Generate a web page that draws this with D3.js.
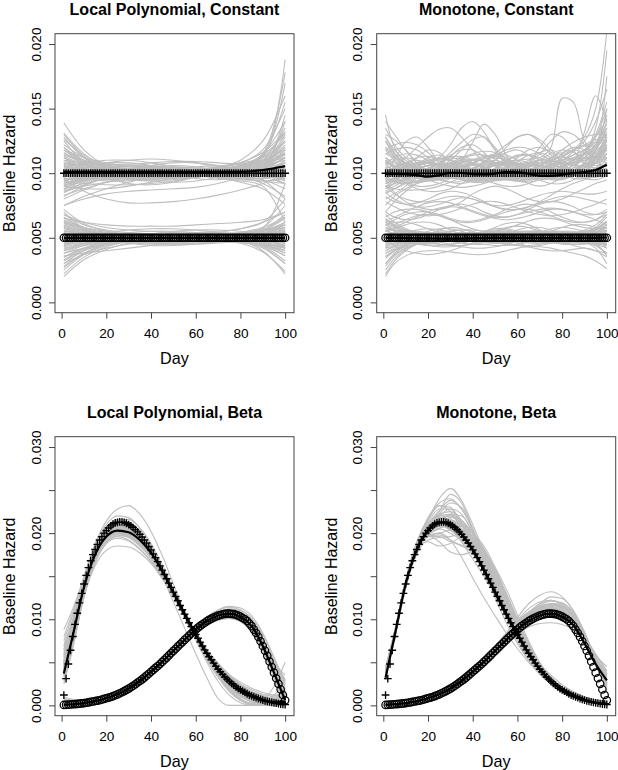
<!DOCTYPE html>
<html><head><meta charset="utf-8">
<script src="https://cdn.jsdelivr.net/npm/d3@7"></script>
<style>body{margin:0;background:#fff}svg{display:block}</style>
</head><body>
<svg id="chart" width="618" height="770"></svg>
<script>
// ---------- DATA (hazard values in units of 1e-4) ----------
const UNIT = 1e-4;
const days = d3.range(1, 101);
const knotDays5 = [1,5,10,15,20,25,30,35,40,45,50,55,60,65,70,75,80,85,90,95,100];
const knotDays10 = [1,10,20,30,40,50,60,70,80,90,100];
const xTickValues = [0,20,40,60,80,100];
const yTicksConst = [0,0.005,0.010,0.015,0.020];
const yLabelsConst = [0,0.005,0.010,0.015,0.020];
const yTicksBeta = [0,0.005,0.010,0.015,0.020,0.025,0.030];
const yLabelsBeta = [0,0.010,0.020,0.030];
const titles = ["Local Polynomial, Constant","Monotone, Constant","Local Polynomial, Beta","Monotone, Beta"];
const xLabel = "Day";
const yLabel = "Baseline Hazard";

const truthConstPlus = [100,100,100,100,100,100,100,100,100,100,100,100,100,100,100,100,100,100,100,100,100,100,100,100,100,100,100,100,100,100,100,100,100,100,100,100,100,100,100,100,100,100,100,100,100,100,100,100,100,100,100,100,100,100,100,100,100,100,100,100,100,100,100,100,100,100,100,100,100,100,100,100,100,100,100,100,100,100,100,100,100,100,100,100,100,100,100,100,100,100,100,100,100,100,100,100,100,100,100,100];
const truthConstCirc = [50,50,50,50,50,50,50,50,50,50,50,50,50,50,50,50,50,50,50,50,50,50,50,50,50,50,50,50,50,50,50,50,50,50,50,50,50,50,50,50,50,50,50,50,50,50,50,50,50,50,50,50,50,50,50,50,50,50,50,50,50,50,50,50,50,50,50,50,50,50,50,50,50,50,50,50,50,50,50,50,50,50,50,50,50,50,50,50,50,50,50,50,50,50,50,50,50,50,50,50];
const truthBetaPlus = [12,31,48,64,80,94,107,119,130,141,
151,160,168,175,181,187,192,196,200,203,
206,208.5,210.5,212,212.5,213,213,212.5,211.5,210,
208.5,206.5,204,201.5,198.5,195.5,192,188.5,184.5,180.5,
176,171.5,167,162,157,152,147,142,137,131.5,
126.5,121.5,116,111,106,101,96,91.5,87,82.5,
78,73.5,69,64.5,60.5,56.5,53,49,45.5,42,
39,36,33,30.5,28,25.5,23.5,21.5,19.5,18,
16.5,15,13.5,12,11,10,9,8,7,6,
5.3,4.6,4,3.5,3,2.5,2,1.6,1.3,1];
const truthBetaCirc = [0.5,0.65,0.8,1,1.25,1.5,1.75,2,2.3,2.65,
3,3.5,4,4.5,5,5.5,6,6.75,7.5,8.25,
9,9.75,10.75,11.75,12.75,14,15.25,16.5,18,19.5,
21,22.75,24.5,26.5,28.25,30.25,32.25,34.5,36.75,39,
41.25,43.5,45.75,48,50.5,53,55.5,58,60.75,63.25,
65.75,68.5,71,73.5,76,78.5,81,83.5,85.75,88,
90.25,92.25,94.25,96,97.75,99.25,100.75,102,103.25,104.25,
105,105.75,106.25,106.5,106.5,106.25,106,105.25,104.25,103,
101.5,100,98,95,92,88,84,79.5,74.5,69,
63.5,57.5,51,44.5,38,31.5,25,18.5,12,6];

// mean estimates at knotDays5
const meanTLplus = [101,101,101,101,101,101,101,101,101,101,101,101,101,101,101,101,101,101.5,102.5,103.8,105.5];
const meanTLcirc = [50,50,50,50,50,50,50,50,50,50,50,50,50,50,50,50,50,50,50,50,50];
const meanTRplus = [99.5,99.5,99.3,98.5,97.3,98.5,100.3,100.2,99.3,99,99.7,100.8,100.6,99.5,98,97.9,98.8,100,100.8,102.5,106.5];
const meanTRcirc = [50,50,49.8,49.6,49.5,49.4,49.3,49.4,49.6,49.8,50,50,50,49.9,49.8,49.8,49.9,50,50,50,50.2];
const meanBLplus = [37,81,137,175,196,203,201,192,177,156,131,106,82,60,42,28,18,11,6,4,4];
const meanBLcirc = [0.5,1.3,2.7,5,8.3,12.8,19.5,28.3,39,50.5,63.3,76,88,97.8,104.3,106.5,103,92,69,38,6];
const meanBRplus = [32,80,141,181,203,212.5,210,198.5,180.5,157,131.5,106,82.5,60.5,42,28,18,11,6,3,2];
const meanBRcirc = [0.5,1.3,2.7,5,8.3,12.8,19.5,28.3,39,50.5,63.3,76,88,97.8,104.3,106.5,103,93,72,48,29];

// replicate estimates, local polynomial constant (knotDays10)
const grayTLupper = [
[139,118,106,103,104,105,104,102,103,110,125],[128,112,104,101,100,101,103,105,108,118,150],
[75,82,88,93,97,100,101,100,99,97,92],[95,100,104,106,105,103,100,98,99,106,128],
[110,105,101,98,96,96,98,101,104,110,118],[120,108,100,96,95,97,100,103,106,115,178],
[88,94,98,101,103,104,104,103,102,100,95],[105,103,102,101,100,99,99,100,102,108,120],
[115,110,106,103,101,100,101,104,110,125,160],[92,96,100,103,106,108,108,106,102,95,80],
[100,98,97,97,98,100,102,103,103,101,96],[130,113,103,97,94,93,94,97,103,115,140],
[82,90,97,102,105,106,105,102,98,92,82],[108,106,104,102,100,98,96,95,97,104,118],
[97,101,104,105,104,102,99,97,96,98,104],[112,104,98,95,94,95,97,100,104,112,132],
[90,88,88,90,93,96,99,102,106,114,130],[118,110,105,103,103,104,105,106,107,112,188],
[102,100,99,99,100,101,101,100,98,95,88],[85,93,99,103,105,104,101,97,93,88,76],
[125,108,97,92,91,93,97,101,105,110,115],[98,104,108,110,111,110,108,105,103,104,112],
[106,102,99,97,96,96,97,99,102,106,110],[94,92,91,91,92,94,97,100,102,103,100],
[113,107,103,100,98,97,97,98,100,104,145],[80,87,93,97,99,99,98,96,94,90,62],
[104,108,110,110,108,105,102,99,98,100,108],[122,112,106,103,102,102,103,104,106,112,124],
[91,95,98,100,101,101,100,99,99,101,108],[100,96,94,94,96,99,102,105,108,113,170],
[96,86,80,77,77,78,80,83,87,92,98],[75,80,84,86,87,88,89,92,97,106,120],
[110,108,107,107,108,109,109,108,107,108,112],[96,95,95,96,97,98,98,97,96,96,98],
[118,112,108,105,104,103,102,101,101,104,115],[86,90,93,95,96,97,98,99,101,106,115],
[108,104,101,100,100,101,102,103,104,108,122],[92,97,101,103,104,103,101,99,98,100,110],
[103,99,97,97,99,101,103,104,103,100,94],[120,110,104,101,99,98,98,99,101,106,116],
[85,91,96,99,101,102,102,101,100,100,104],[99,102,104,104,103,101,99,98,99,104,140],
[112,106,102,100,99,99,100,101,102,103,102],[94,98,101,102,102,101,100,100,102,108,130],
[104,101,99,98,98,99,100,102,104,108,114],[88,95,100,103,104,104,102,99,96,94,96],
[116,107,101,98,97,98,100,102,104,105,104],[100,104,106,106,105,103,101,99,97,96,100],
[90,94,97,99,100,100,99,98,98,100,108],[126,114,106,101,99,98,99,101,105,114,155],
[97,99,100,101,101,100,99,99,100,104,118],[106,107,107,106,104,102,100,99,99,101,108],
[83,88,93,97,100,102,103,103,102,99,92],[110,103,99,97,97,98,100,103,106,110,112],
[95,96,97,98,99,100,101,102,104,110,135],[102,106,108,108,106,103,100,97,95,94,92],
[118,108,102,99,98,99,101,104,108,116,132],[93,100,104,106,106,104,101,98,96,96,102],
[107,103,100,98,97,97,98,99,100,101,100],[98,97,96,96,97,99,101,103,105,109,120],
[114,109,105,102,100,99,99,100,101,104,112],[87,92,96,98,99,99,99,99,100,103,112],
[105,100,97,96,96,97,99,101,103,107,125],[100,101,102,103,104,104,103,102,101,102,106],
[131,115,105,99,96,96,97,99,101,104,108],[90,96,100,102,103,103,102,100,99,100,104]];
const grayTLlower = [
[20,33,41,46,49,50,50,49,46,39,24],[72,61,55,52,51,51,52,54,57,62,70],
[48,49,50,51,51,51,50,49,48,47,46],[35,42,47,50,52,53,53,52,50,46,38],
[62,56,52,49,47,46,46,47,49,53,60],[28,38,45,49,51,52,52,51,49,44,32],
[55,53,52,51,50,49,49,49,50,52,56],[66,58,54,52,51,50,49,48,48,50,58],
[42,45,48,50,52,53,54,54,53,50,42],[58,55,53,52,51,50,50,51,53,58,75],
[38,42,45,47,48,49,50,51,52,54,58],[52,51,49,47,46,46,47,49,51,53,52],
[25,37,44,48,50,51,51,50,48,43,30],[68,60,56,54,53,52,51,50,48,45,40],
[45,47,49,51,53,55,56,56,55,52,45],[60,55,51,48,46,45,45,46,48,52,62],
[32,40,45,48,49,49,48,47,46,45,44],[50,52,53,53,52,51,50,49,49,50,54],
[70,57,50,46,44,44,45,47,50,55,65],[40,44,47,49,50,51,52,53,54,56,60],
[55,54,53,52,51,50,49,48,47,45,42],[30,40,46,50,52,53,53,51,48,40,22],
[64,58,54,52,51,51,51,52,54,58,66],[46,48,50,51,52,52,51,50,48,45,38],
[36,38,40,42,44,46,48,50,52,56,68],[58,52,48,46,45,45,46,48,50,51,48],
[44,50,54,56,57,57,56,54,52,50,46],[68,62,58,56,55,54,54,55,57,62,80],
[22,35,43,47,49,50,50,49,47,42,30],[53,50,48,47,47,48,49,51,53,57,92],
[65,62,60,59,59,59,60,61,62,64,70],
[44,47,49,50,51,51,51,50,49,47,42],[57,54,52,51,50,50,50,51,52,55,62],
[33,41,46,49,50,51,51,50,48,44,36],[61,56,52,50,49,49,49,50,51,53,56],
[48,50,51,52,52,51,50,49,48,48,50],[40,45,49,51,52,52,51,49,47,44,40],
[54,52,50,49,49,50,51,52,53,55,60],[66,57,52,49,48,48,49,50,51,53,56],
[38,44,48,50,51,51,50,49,49,50,54],[52,53,53,52,51,50,49,48,48,49,52],
[27,38,45,49,51,52,52,51,49,45,36],[59,55,52,50,49,48,48,48,49,51,55],
[46,48,49,50,50,50,50,50,50,51,55],[43,46,48,50,51,52,53,53,52,49,43],
[63,57,53,51,50,50,50,51,52,56,66],[35,42,47,49,50,50,50,49,48,46,42],
[50,49,48,48,49,50,51,52,53,55,58],[56,53,51,50,49,49,49,49,49,48,44],
[41,46,49,51,52,52,52,51,50,48,44],[62,58,55,53,52,51,50,49,48,47,48],
[30,37,42,45,47,48,49,50,51,53,58],[49,51,52,52,52,51,50,50,50,51,53],
[58,52,48,46,46,47,48,50,51,52,50],[45,49,52,54,55,55,54,52,50,47,40],
[53,52,51,50,50,50,50,50,51,53,60]];

// replicate estimates, monotone constant (knotDays5)
const grayTRupper = [
[145,120,108,104,102,100,99,100,103,108,110,106,101,98,97,99,103,108,112,120,135],
[95,100,106,112,118,116,108,100,96,95,97,100,103,104,102,99,97,98,102,110,125],
[110,104,99,96,95,97,102,110,124,138,130,114,104,100,100,103,109,117,125,140,165],
[88,92,97,101,103,102,99,96,94,95,98,103,109,114,116,112,105,99,96,95,98],
[130,126,118,108,100,95,93,94,97,100,102,101,99,97,96,97,100,108,132,160,140],
[100,98,97,98,100,104,110,118,126,128,120,110,103,99,98,100,104,110,116,128,150],
[75,82,88,92,94,95,96,97,98,99,100,101,102,103,104,106,110,114,118,122,125],
[120,112,106,104,106,112,122,135,140,132,118,108,102,100,102,108,115,120,118,112,108],
[92,95,99,103,106,107,106,103,99,95,92,90,90,92,96,101,106,110,112,113,112],
[105,103,100,97,95,95,97,100,104,109,114,118,120,119,115,110,107,108,115,135,195],
[115,118,120,118,112,105,99,95,93,93,95,99,104,110,116,118,114,108,103,100,100],
[98,99,100,101,102,103,104,105,106,107,108,109,110,111,112,120,158,155,125,115,118],
[85,88,92,96,100,104,108,112,115,117,116,112,106,100,95,92,92,95,100,108,120],
[135,122,112,106,102,100,98,97,97,98,100,102,104,108,115,125,132,130,122,112,100],
[100,105,112,120,128,134,135,128,118,108,100,96,94,95,98,103,108,111,112,112,112],
[90,88,87,87,88,90,93,97,102,108,115,122,128,130,126,118,110,106,106,112,130],
[108,106,103,99,95,92,90,89,90,92,95,99,103,107,110,112,113,118,128,150,210],
[96,100,104,107,108,107,104,100,96,94,94,96,100,105,110,115,118,116,112,108,105],
[125,113,104,100,101,106,113,120,122,116,106,98,94,93,95,99,104,110,118,128,142],
[80,84,90,97,103,108,111,111,108,103,98,95,94,96,100,106,112,118,122,126,128],
[112,108,106,106,108,111,113,112,108,103,99,97,97,100,105,112,118,124,128,130,130],
[102,97,93,90,90,92,96,102,108,112,114,112,107,102,98,96,96,98,101,104,106],
[118,122,124,122,116,108,101,96,94,95,99,105,112,118,120,116,108,101,98,100,108],
[70,78,86,92,96,98,99,100,100,100,100,100,101,103,106,110,114,118,121,124,126],
[100,102,105,108,110,111,110,106,101,97,95,96,100,108,120,130,128,118,108,110,122],
[108,100,95,93,95,100,106,111,114,114,111,106,101,97,95,96,100,107,116,130,155],
[92,94,96,99,103,108,114,118,118,113,106,100,97,96,97,99,102,104,105,104,100],
[128,118,110,105,103,103,105,108,110,110,108,105,102,100,99,99,100,102,106,118,175],
[95,85,78,74,72,72,74,78,84,88,90,88,84,80,78,78,80,84,88,92,95],
[82,78,76,77,80,84,86,85,82,78,74,72,72,74,78,83,88,92,95,97,98],
[140,130,118,108,102,98,96,96,98,102,110,120,128,130,124,114,106,100,98,100,104],
[98,110,124,128,120,108,100,97,98,103,110,116,118,114,106,100,98,100,108,122,145],
[90,92,95,98,102,108,116,124,130,128,118,106,97,92,90,92,97,104,112,122,130],
[104,98,92,88,86,86,88,92,97,102,106,108,106,102,98,95,95,98,104,112,122],
[100,104,108,110,108,103,98,95,95,98,103,108,110,108,103,99,97,98,102,108,118],
[112,105,99,96,97,101,106,109,108,104,100,97,96,98,102,106,108,108,110,116,128],
[94,96,100,106,112,114,110,104,99,96,96,98,101,103,103,101,100,102,108,118,135],
[106,110,112,110,105,100,97,97,100,104,108,110,108,104,100,97,96,98,104,112,120],
[98,94,92,93,97,103,108,110,108,104,100,98,99,102,106,110,112,111,108,106,106],
[118,110,104,100,99,100,103,106,107,105,101,97,95,96,100,105,110,114,118,124,135],
[88,92,97,102,106,108,107,104,100,97,96,98,102,107,110,110,106,101,98,98,102],
[104,100,97,97,100,104,106,105,102,99,98,100,104,108,110,108,104,100,98,102,112],
[96,102,108,112,113,110,105,100,97,96,98,101,104,106,106,104,102,102,106,114,128],
[110,106,102,98,96,96,98,102,107,112,115,114,110,104,99,96,96,99,104,112,125],
[92,95,98,100,101,101,100,100,101,103,106,110,113,114,112,108,104,102,104,110,120],
[125,115,107,102,100,101,104,108,110,109,106,102,99,98,99,102,106,110,114,118,122],
[100,98,98,100,104,108,112,113,110,105,100,97,96,97,100,104,108,112,115,122,140],
[86,90,95,99,101,101,99,97,96,97,100,104,107,108,106,103,100,99,100,103,108],
[108,112,115,114,110,105,100,96,94,94,96,100,104,107,108,107,104,101,100,104,115],
[102,99,96,94,94,96,100,105,110,113,113,110,105,100,97,96,98,102,108,118,150],
[115,112,108,104,100,98,97,98,101,104,107,108,107,104,101,99,99,102,108,118,132],
[90,94,100,106,110,112,110,106,101,97,95,95,97,101,106,112,116,118,116,112,110],
[104,106,106,104,100,96,93,92,94,98,104,110,114,114,110,104,99,96,96,100,108],
[96,93,92,94,98,103,107,110,111,110,107,103,99,96,95,97,101,106,112,120,130],
[120,114,108,104,102,101,101,102,104,106,107,106,104,101,99,98,99,101,104,108,115],
[84,88,93,98,102,105,106,105,103,101,100,101,103,105,106,105,102,99,97,97,100],
[100,103,106,108,108,106,104,103,103,104,106,107,106,104,101,99,99,102,106,112,120],
[110,104,100,98,99,102,106,108,107,104,100,96,94,94,97,101,105,108,110,112,115],
[93,97,101,104,106,106,104,101,98,96,96,98,101,105,108,109,108,106,106,108,112],
[128,116,106,100,98,98,100,104,108,111,112,110,106,102,99,97,98,101,106,114,126],
[98,100,103,106,109,111,110,107,103,99,96,95,96,99,103,107,110,112,115,122,138]];
const grayTRmid = [
[70,66,64,65,68,72,75,76,74,70,67,66,68,72,76,78,77,74,70,68,70],
[60,64,68,70,70,68,65,63,63,65,68,72,75,76,74,70,66,63,62,64,70],
[85,80,76,74,74,76,79,81,80,77,74,72,72,74,77,80,82,82,80,78,76],
[55,58,62,66,70,73,74,73,70,67,65,64,65,67,70,72,72,70,67,64,60],
[90,84,80,78,78,80,82,82,80,77,75,75,77,80,83,85,86,85,84,84,86],
[66,70,72,72,70,67,64,62,62,64,67,70,72,72,70,67,64,62,62,64,68],
[78,74,70,68,67,68,70,73,76,78,78,76,73,70,68,67,68,70,73,76,80],
[62,66,70,74,77,78,77,74,71,68,66,66,68,70,72,73,72,70,68,68,72]];
const grayTRlower = [
[22,32,40,45,48,50,51,51,50,49,48,48,49,50,51,51,50,49,47,42,30],
[65,60,56,54,52,51,50,50,50,51,52,53,54,55,55,54,53,52,52,54,58],
[50,48,46,45,45,46,48,50,52,54,55,55,53,51,49,47,46,46,47,49,52],
[35,40,44,48,52,56,58,57,54,50,47,45,45,47,50,53,55,55,53,50,45],
[58,56,53,50,47,45,44,44,45,47,50,53,56,58,58,56,53,50,48,47,47],
[28,36,42,46,48,48,47,46,45,45,46,48,50,52,53,53,52,51,50,48,42],
[55,57,60,62,62,60,56,52,49,47,46,46,48,51,54,57,58,57,55,54,56],
[45,46,47,48,49,50,51,52,53,54,54,53,52,51,50,49,48,48,48,50,55],
[62,55,50,46,44,43,43,44,46,49,52,54,55,55,53,50,47,44,42,40,38],
[40,44,48,52,55,57,57,55,52,49,47,46,47,49,52,55,58,60,60,58,55],
[52,50,49,49,50,51,52,52,51,49,47,45,44,44,45,47,49,51,53,56,62],
[30,38,44,47,48,47,45,43,42,42,43,45,47,49,50,50,49,48,47,46,44],
[60,62,62,60,57,54,52,51,51,52,53,54,54,53,52,51,51,52,54,58,66],
[48,47,46,45,44,44,45,47,50,54,58,61,62,60,56,52,49,47,46,46,47],
[38,42,46,50,53,54,53,50,47,45,44,44,45,47,49,51,52,53,53,52,50],
[68,62,57,54,52,51,51,52,53,54,54,53,51,49,47,46,46,47,49,53,60],
[44,45,47,49,51,53,55,56,56,55,53,51,49,48,48,49,51,53,55,57,58],
[25,34,41,46,49,51,52,52,51,50,49,48,48,48,49,50,51,51,50,46,36],
[56,53,50,48,46,45,45,46,48,51,55,58,59,58,55,52,49,47,46,45,45],
[42,48,53,56,57,56,54,51,49,48,48,49,50,51,51,50,49,48,48,48,49],
[53,51,50,50,51,53,55,56,55,52,49,46,44,43,44,46,49,53,56,60,68],
[36,40,43,45,46,47,48,49,50,51,52,53,54,55,55,54,53,51,48,44,38],
[64,59,55,52,50,49,49,50,52,55,57,57,55,52,49,47,45,45,46,48,52],
[47,49,51,53,54,54,53,51,49,47,46,46,47,49,51,53,54,54,52,50,48],
[55,60,64,67,68,67,64,60,57,55,55,57,60,63,65,65,63,60,58,57,58],
[20,30,36,39,40,40,39,38,37,37,38,40,42,43,43,42,40,38,36,32,26],
[48,44,40,38,37,38,40,43,46,48,49,48,46,43,41,40,40,41,42,40,35],
[46,48,50,52,53,53,52,50,48,47,47,48,50,52,53,53,52,50,48,46,44],
[58,55,52,50,49,49,50,51,52,52,51,50,49,49,50,51,52,53,54,56,60],
[40,43,46,49,51,52,52,51,50,49,49,50,51,52,52,51,50,49,48,47,45],
[52,54,55,55,54,52,50,48,47,47,48,50,52,54,55,55,54,52,50,49,50],
[34,40,45,48,50,51,51,50,50,50,51,52,53,53,52,50,48,47,46,45,42],
[62,58,54,51,49,48,48,49,51,53,54,54,53,51,49,48,48,49,51,54,58],
[48,47,46,46,47,49,51,53,54,54,53,51,49,47,46,46,47,49,51,53,55],
[55,53,51,49,48,48,49,51,53,55,56,56,54,52,50,48,47,47,48,50,54],
[43,46,49,51,52,52,51,49,48,47,47,48,50,52,54,55,55,54,52,50,47],
[50,51,52,52,51,50,49,48,48,49,50,51,52,52,51,50,49,49,50,52,56],
[38,41,44,47,49,50,50,49,48,48,49,51,53,54,54,52,50,48,47,46,46],
[60,56,53,51,51,52,53,54,54,53,51,49,47,46,46,47,49,51,53,55,58],
[45,48,51,53,54,53,51,49,48,48,49,51,52,53,53,52,51,50,50,51,52],
[53,50,48,47,47,48,50,52,53,53,52,50,48,47,47,48,50,52,54,55,55],
[30,37,42,45,47,48,48,48,48,49,50,51,52,52,51,50,49,48,47,44,38],
[57,56,55,54,53,52,51,50,49,48,48,48,49,50,51,52,53,54,55,57,62],
[42,44,47,50,53,55,55,53,50,48,46,46,47,49,51,52,52,51,50,49,48],
[51,49,47,46,46,47,48,50,52,54,55,55,54,52,50,48,47,47,48,49,50],
[47,50,52,53,53,52,51,50,50,51,52,53,53,52,50,48,46,45,45,46,48],
[64,60,56,53,51,50,50,51,52,53,53,52,51,50,50,51,52,53,54,57,63]];

// replicate estimates, local polynomial beta (knotDays5)
const grayBLplus = [
[55,92,142,178,197,203,200,190,175,153,128,103,79,57,39,25,15,9,6,6,9],
[30,75,133,172,194,202,199,189,174,153,129,105,82,61,43,29,18,10,5,2,1],
[88,112,148,180,203,215,216,206,188,163,135,107,80,55,33,16,6,2,4,12,25],
[45,85,140,180,204,214,212,200,182,158,132,106,82,60,41,26,15,8,4,2,1],
[35,70,125,165,188,197,196,187,173,153,130,106,83,62,45,32,22,15,10,8,8],
[65,98,148,186,210,220,218,206,186,160,131,102,76,53,34,20,10,5,4,8,18],
[40,80,134,172,193,200,197,188,174,155,133,109,86,64,45,30,19,12,8,6,5],
[50,88,140,178,200,208,205,194,178,156,131,105,80,58,40,26,16,10,7,7,10],
[28,68,128,170,193,201,198,188,173,152,128,104,81,61,44,31,21,14,9,6,4],
[75,105,150,188,214,228,232,222,202,174,141,108,77,50,28,12,3,0,0,0,0],
[42,82,136,175,198,206,203,193,177,156,132,107,83,61,43,29,19,12,7,4,2],
[60,90,138,174,194,200,196,186,171,151,128,104,81,60,43,30,21,15,12,12,15],
[38,78,130,168,188,194,191,181,167,148,126,104,83,64,48,35,25,18,13,10,8],
[48,86,139,178,201,209,206,196,180,158,133,107,82,59,39,23,11,4,2,5,12],
[33,74,132,174,198,207,205,195,179,157,132,106,81,59,41,27,17,10,6,3,2],
[70,100,143,179,200,207,204,193,177,155,130,104,79,56,36,20,8,2,0,2,6],
[45,84,136,173,193,199,196,186,172,152,129,106,84,64,47,34,24,16,10,5,2],
[52,90,144,184,207,216,213,201,183,159,132,104,77,53,33,17,6,0,0,3,10],
[36,76,131,170,191,198,195,185,171,151,128,105,82,62,45,32,22,15,10,7,6],
[58,94,142,179,200,207,203,192,176,155,131,107,84,63,45,31,20,13,9,9,12],
[25,66,126,168,190,196,192,182,168,149,127,105,84,65,49,36,27,20,15,12,10],
[80,108,146,180,200,206,203,193,178,157,132,105,78,54,34,18,7,1,0,5,20],
[44,83,138,178,201,210,208,198,181,158,132,106,81,58,38,22,11,5,3,6,14],
[38,80,136,176,199,207,204,194,178,156,131,105,80,57,38,23,12,5,2,3,7],
[50,88,142,182,206,214,210,196,176,150,120,90,60,32,8,0,0,0,0,4,15],
[40,78,128,162,180,185,184,177,165,147,126,104,83,63,46,33,23,16,11,8,6],
[48,86,140,178,200,207,204,193,177,155,130,104,78,54,33,17,6,2,6,22,50],
[42,83,137,176,198,205,202,192,176,155,131,106,82,60,42,28,18,11,7,5,5],
[52,88,140,178,199,206,203,193,177,156,131,105,80,58,40,26,16,9,5,4,6],
[36,77,133,173,196,204,202,192,177,156,132,107,83,61,43,29,19,12,8,6,6],
[62,95,143,180,201,208,205,194,178,156,131,105,80,57,38,23,12,6,3,4,10],
[47,85,137,174,195,202,199,189,174,154,130,106,83,62,45,31,21,14,9,6,4],
[40,81,137,177,200,208,206,196,180,158,133,107,82,59,40,25,14,7,3,2,3],
[56,91,141,177,197,203,200,190,175,154,130,105,81,60,42,28,18,11,7,6,8],
[33,73,130,171,194,202,200,190,175,154,130,106,82,61,43,29,19,12,7,4,3],
[68,99,144,180,201,208,205,194,178,156,131,105,80,57,38,24,13,6,2,2,5],
[45,84,139,179,202,210,207,196,180,157,131,105,80,58,40,26,16,9,5,3,3],
[50,87,138,175,196,202,199,189,174,154,130,106,83,62,44,30,20,13,8,5,4],
[39,79,135,175,198,206,203,193,177,155,130,104,79,57,39,25,15,8,4,3,4],
[58,92,140,176,196,202,199,189,174,154,131,107,84,63,45,31,21,14,10,9,11],
[44,82,136,175,198,205,202,192,176,155,131,106,82,60,41,27,17,10,6,4,4],
[65,97,143,179,200,207,204,193,177,155,130,104,79,56,37,22,11,4,1,2,8]];
const grayBLcirc = [
[2,2,3,5,8,13,20,29,40,52,64,77,89,99,105,107,103,92,70,40,10],
[8,6,5,6,9,14,21,30,41,53,66,79,91,101,108,111,108,97,75,45,15],
[0,1,3,5,8,12,18,27,37,48,60,73,85,95,101,103,100,91,72,48,30],
[5,4,4,6,9,14,21,30,41,52,64,76,87,96,102,104,101,90,68,36,0],
[0,0,1,3,6,11,18,27,38,50,63,76,88,98,105,108,105,94,72,42,12],
[10,7,6,7,10,15,22,31,42,54,66,79,91,101,108,112,110,101,82,55,28],
[3,3,4,6,9,13,19,28,38,49,61,73,84,93,99,101,98,88,68,40,8],
[1,2,3,5,8,12,19,28,39,51,64,78,91,102,110,114,111,99,74,38,0],
[6,5,5,6,9,14,20,29,40,52,65,78,90,100,106,108,104,93,72,45,20],
[0,1,2,4,7,11,17,26,37,49,62,75,87,97,103,104,100,88,64,32,2],
[4,4,4,6,9,14,21,30,41,53,66,79,92,103,111,115,113,104,84,56,25],
[2,2,3,5,8,12,18,26,36,47,59,71,83,93,99,101,97,86,65,38,12],
[7,5,4,5,8,13,20,29,40,51,63,75,86,95,100,102,99,90,72,50,35],
[0,1,2,4,7,12,19,28,39,51,64,77,89,99,106,109,107,97,76,45,5],
[3,3,4,6,9,14,21,30,41,53,65,78,90,99,104,105,101,91,71,43,15],
[5,4,4,5,8,12,19,28,39,50,62,75,87,97,104,107,104,94,75,50,28],
[1,2,3,5,8,13,20,29,40,51,63,76,88,98,104,106,102,91,69,37,3],
[4,3,3,5,8,13,20,29,40,52,65,78,90,100,106,108,105,95,74,44,10],
[0,1,3,5,8,13,20,29,40,52,65,78,90,100,107,110,107,96,74,42,8],
[2,3,4,6,9,14,20,28,38,49,61,74,86,96,103,106,104,95,77,52,30],
[1,2,3,5,8,13,19,28,39,51,63,76,88,98,104,106,103,92,71,41,8],
[3,3,4,6,9,13,20,29,40,51,64,77,89,99,105,107,104,94,73,44,14],
[0,1,2,4,7,12,19,28,39,51,64,77,89,98,104,105,101,90,69,39,6],
[5,4,4,5,8,13,20,29,40,52,64,77,89,99,106,109,106,96,75,46,18],
[2,2,3,5,8,12,19,28,38,50,62,75,87,97,103,105,102,92,72,44,16],
[0,1,2,4,8,13,20,30,41,53,66,79,91,101,107,109,105,94,72,41,5],
[4,3,3,5,8,13,20,29,40,51,63,76,88,98,104,106,103,93,73,47,22],
[1,2,3,5,8,12,18,27,38,50,63,76,88,98,105,108,106,96,75,44,10],
[6,5,4,5,8,13,20,29,39,50,62,75,87,97,103,105,102,92,71,42,12],
[2,2,3,5,8,13,20,29,40,52,65,78,90,100,106,108,104,93,71,40,4],
[3,3,3,5,8,13,19,28,39,51,63,76,88,98,104,106,104,95,76,50,25],
[0,1,2,4,7,12,19,28,39,51,64,77,90,100,106,108,105,95,74,45,12]];

// replicate estimates, monotone beta (knotDays5)
const grayBRplus = [
[35,82,145,188,215,232,225,205,185,160,130,102,78,56,40,28,18,12,7,4,3],
[30,78,140,182,205,215,212,202,187,165,138,110,84,62,44,30,20,13,8,5,3],
[45,85,142,180,198,205,215,210,190,158,125,96,72,52,36,25,17,11,7,4,2],
[38,80,138,178,200,212,218,212,195,170,140,108,80,56,38,25,16,10,6,4,3],
[32,76,136,176,196,198,192,185,178,165,145,118,88,62,42,28,19,13,8,5,3],
[40,84,146,190,218,235,240,228,205,175,142,110,82,58,40,27,18,12,8,5,4],
[34,79,140,180,190,185,188,195,192,178,155,125,95,68,46,30,19,12,7,4,2],
[42,83,141,182,208,225,245,235,205,170,135,102,75,53,37,26,18,12,8,5,3],
[30,77,139,181,204,214,208,190,170,150,128,106,85,65,48,35,24,16,10,6,4],
[36,81,143,184,207,218,220,214,200,180,155,125,95,68,46,30,19,12,7,4,2],
[38,80,138,176,192,195,196,200,198,185,160,128,96,68,46,31,21,14,9,6,4],
[33,78,140,185,215,240,252,238,210,178,145,112,84,60,42,29,19,12,7,4,3],
[40,82,140,178,198,206,208,205,196,180,158,130,100,72,48,31,20,13,8,5,3],
[35,79,139,180,203,210,204,192,180,168,150,124,94,66,44,29,19,12,7,4,2],
[44,86,145,186,210,220,222,215,200,178,150,118,88,62,42,28,18,11,7,4,3],
[31,76,137,178,197,190,178,175,178,172,155,128,98,70,48,32,21,14,9,6,4],
[37,80,141,182,206,222,235,230,205,170,135,104,78,56,40,28,19,12,7,4,2],
[39,81,140,179,200,208,212,210,200,182,157,128,98,70,47,30,19,12,7,4,3],
[33,78,139,181,206,218,214,200,185,168,146,118,88,62,42,28,19,13,9,6,5],
[41,84,144,186,212,228,228,212,192,168,140,110,82,58,40,27,18,11,6,4,2],
[36,80,140,180,202,210,210,205,195,180,160,135,105,75,50,32,20,12,7,4,3],
[34,79,141,183,205,212,205,190,176,160,138,110,82,58,40,28,19,12,7,5,4],
[38,81,140,178,196,200,192,172,148,125,104,84,66,50,37,27,19,13,8,5,3],
[36,80,141,183,208,222,225,215,196,172,145,115,86,61,42,28,18,11,7,4,3],
[40,83,142,182,204,210,203,195,188,175,152,122,92,65,44,29,19,12,7,4,3],
[33,78,140,182,206,216,220,210,188,162,135,108,82,59,41,28,19,12,7,5,4],
[38,81,141,180,198,200,204,208,200,180,152,120,90,64,44,29,19,12,7,4,2],
[42,84,144,188,216,232,230,212,190,166,140,112,85,61,43,29,19,12,7,4,3],
[35,79,139,179,200,205,200,192,184,172,152,125,95,68,46,30,19,12,7,4,2],
[37,80,140,182,207,220,228,222,200,170,140,110,83,60,42,29,19,12,7,4,3],
[39,82,142,184,208,214,208,198,186,170,148,120,90,64,44,29,19,12,7,4,3],
[34,78,138,178,196,196,190,186,182,172,152,124,94,67,46,30,20,13,8,5,3],
[41,83,143,185,210,226,238,228,204,174,142,110,82,58,40,27,18,11,6,4,2],
[36,80,140,181,203,212,214,208,194,174,148,118,88,62,43,29,19,12,7,4,3],
[38,81,141,183,207,218,216,205,190,172,150,122,92,65,44,29,19,12,7,4,3],
[35,79,139,180,202,208,206,200,190,176,156,130,100,71,48,31,20,12,7,4,2],
[40,82,141,181,202,212,222,220,202,176,146,115,86,61,42,28,18,11,7,4,3],
[37,80,140,182,206,220,222,210,192,170,146,118,90,64,44,30,20,13,8,5,3]];
const grayBRcirc = [
[1,1,2,4,8,13,20,29,40,52,65,80,95,108,118,122,118,105,82,55,30],
[0,1,2,5,9,14,21,30,40,50,62,76,90,102,110,113,110,100,80,55,35],
[2,2,3,5,8,12,18,26,36,47,60,74,88,100,108,112,108,96,75,50,28],
[0,0,1,3,7,13,22,33,44,55,66,78,92,106,118,126,124,110,85,55,25],
[1,1,2,4,7,12,19,28,38,50,64,80,97,108,110,108,104,96,80,60,40],
[0,1,2,4,8,14,22,32,43,54,66,79,92,103,112,118,118,108,85,52,20],
[2,2,3,5,9,15,22,30,38,48,60,74,88,98,104,106,103,94,78,58,45],
[1,1,2,4,7,12,18,27,39,53,68,84,98,108,112,110,104,92,72,48,24],
[0,1,2,4,8,13,21,31,42,53,65,78,92,104,113,117,114,102,80,52,26],
[1,2,3,5,8,12,18,26,36,48,62,78,94,105,110,110,106,95,76,52,32],
[0,1,2,4,7,12,20,30,41,52,64,77,90,100,106,108,105,95,75,48,22],
[2,2,3,5,9,14,21,30,40,52,66,82,99,112,120,122,116,102,78,50,26],
[1,1,2,4,8,13,20,28,38,50,63,76,88,97,102,104,102,94,78,58,40],
[0,1,2,4,8,14,23,34,45,55,65,76,88,98,106,110,108,98,78,50,24],
[1,1,2,5,9,14,20,28,38,49,62,77,92,104,112,115,111,99,77,50,26],
[0,1,2,4,7,12,19,28,39,51,64,78,91,101,107,108,104,93,72,46,22],
[2,2,3,5,8,13,20,30,43,56,68,80,92,102,108,110,106,95,75,50,30],
[1,1,2,4,8,13,19,27,37,48,61,75,90,103,113,118,116,105,82,52,22],
[0,1,2,4,8,13,20,29,40,51,63,76,89,100,107,110,107,97,78,54,34],
[1,2,3,5,8,13,20,29,40,52,65,79,93,104,110,112,109,98,76,47,18],
[0,1,2,4,8,14,22,31,42,54,68,84,102,118,128,132,126,110,84,54,26],
[1,1,2,4,7,12,19,27,37,48,60,72,83,91,95,96,94,88,74,55,38],
[1,1,2,4,8,13,20,29,40,51,64,78,93,106,115,118,114,102,80,52,26],
[0,1,2,4,8,13,21,31,42,53,65,78,91,102,109,112,109,98,78,54,32],
[1,2,3,5,8,12,19,28,39,51,64,79,94,106,113,114,110,98,76,50,26],
[0,1,2,4,7,12,20,31,43,55,67,80,94,106,114,118,115,104,82,54,28],
[2,2,3,5,9,14,21,29,38,49,62,77,92,104,111,113,110,100,80,55,34],
[1,1,2,4,8,14,22,31,41,52,64,78,93,106,116,121,119,107,83,53,24],
[0,1,2,4,8,13,19,28,39,51,64,78,92,103,110,112,108,97,76,50,27],
[1,1,2,5,9,14,21,30,41,53,66,80,94,105,111,112,108,97,77,52,30],
[0,1,2,4,7,12,19,28,39,52,66,81,96,108,115,117,112,100,78,51,25],
[2,2,3,5,8,13,20,29,40,52,64,77,90,101,108,111,108,98,78,53,31],
[1,1,2,4,8,13,20,29,40,52,65,79,93,105,113,116,113,102,80,52,24],
[0,1,2,4,8,13,20,29,40,51,63,76,89,100,107,110,108,99,80,56,36]];

// ---------- LAYOUT ----------
const FONT = "'Liberation Sans', Arial, Helvetica, sans-serif";
const LINE = "#444";
const panels = [
  {id:0, title:titles[0], left:55, top:33.7, w:239, h:279, ymax:0.020, yTicks:yTicksConst, yLabels:yLabelsConst,
   gray:[...grayTLupper, ...grayTLlower], grayKnots:knotDays10, grayCurve:d3.curveCatmullRom.alpha(0.5),
   truthPlus:truthConstPlus, truthCirc:truthConstCirc, meanPlus:meanTLplus, meanCirc:meanTLcirc},
  {id:1, title:titles[1], left:376.7, top:33.7, w:239, h:279, ymax:0.020, yTicks:yTicksConst, yLabels:yLabelsConst,
   gray:[...grayTRupper, ...grayTRmid, ...grayTRlower], grayKnots:knotDays5, grayCurve:d3.curveCatmullRom.alpha(0.5),
   truthPlus:truthConstPlus, truthCirc:truthConstCirc, meanPlus:meanTRplus, meanCirc:meanTRcirc},
  {id:2, title:titles[2], left:55, top:436.7, w:239, h:279, ymax:0.030, yTicks:yTicksBeta, yLabels:yLabelsBeta,
   gray:[...grayBLplus, ...grayBLcirc], grayKnots:knotDays5, grayCurve:d3.curveMonotoneX,
   truthPlus:truthBetaPlus, truthCirc:truthBetaCirc, meanPlus:meanBLplus, meanCirc:meanBLcirc},
  {id:3, title:titles[3], left:376.7, top:436.7, w:239, h:279, ymax:0.030, yTicks:yTicksBeta, yLabels:yLabelsBeta,
   gray:[...grayBRplus, ...grayBRcirc], grayKnots:knotDays5, grayCurve:d3.curveMonotoneX,
   truthPlus:truthBetaPlus, truthCirc:truthBetaCirc, meanPlus:meanBRplus, meanCirc:meanBRcirc}
];

const svg = d3.select("#chart");
const defs = svg.append("defs");
const fmt = d3.format(".3f");

function drawPanel(p) {
  const xPad = 0.04 * (100 - 1);
  const x = d3.scaleLinear().domain([1 - xPad, 100 + xPad]).range([p.left, p.left + p.w]);
  const yPad = 0.04 * p.ymax;
  const y = d3.scaleLinear().domain([-yPad, p.ymax + yPad]).range([p.top + p.h, p.top]);
  const bottom = p.top + p.h;

  defs.append("clipPath").attr("id", "clip" + p.id)
    .append("rect").attr("x", p.left).attr("y", p.top).attr("width", p.w).attr("height", p.h);
  const g = svg.append("g");
  const plot = g.append("g").attr("clip-path", `url(#clip${p.id})`);

  // gray replicate curves
  const grayLine = d3.line().x((d, i) => x(p.grayKnots[i])).y(d => y(d * UNIT)).curve(p.grayCurve);
  plot.append("g").selectAll("path").data(p.gray).enter().append("path")
    .attr("d", grayLine).attr("fill", "none").attr("stroke", "#bebebe").attr("stroke-width", 1.1);

  // true hazard markers: plus and circle
  const s = 3.9;
  plot.append("path")
    .attr("d", p.truthPlus.map((v, i) => {
      const cx = x(days[i]), cy = y(v * UNIT);
      return `M${cx - s},${cy}H${cx + s}M${cx},${cy - s}V${cy + s}`;
    }).join(""))
    .attr("fill", "none").attr("stroke", "#000").attr("stroke-width", 1.35);
  plot.append("g").selectAll("circle").data(p.truthCirc).enter().append("circle")
    .attr("cx", (d, i) => x(days[i])).attr("cy", d => y(d * UNIT)).attr("r", 3.7)
    .attr("fill", "none").attr("stroke", "#000").attr("stroke-width", 1.25);

  // mean estimate lines
  const meanLine = d3.line().x((d, i) => x(knotDays5[i])).y(d => y(d * UNIT)).curve(d3.curveMonotoneX);
  [p.meanCirc, p.meanPlus].forEach(m => plot.append("path").attr("d", meanLine(m))
    .attr("fill", "none").attr("stroke", "#000").attr("stroke-width", 2.2));

  // box
  g.append("rect").attr("x", p.left).attr("y", p.top).attr("width", p.w).attr("height", p.h)
    .attr("fill", "none").attr("stroke", LINE).attr("stroke-width", 1);

  // x axis
  const xa = g.append("g").attr("transform", `translate(0,${bottom})`)
    .call(d3.axisBottom(x).tickValues(xTickValues).tickSize(6).tickFormat(d3.format("d")));
  xa.select(".domain").remove();
  xa.selectAll("line").attr("stroke", LINE);
  xa.selectAll("text").attr("y", 25).attr("dy", 0).attr("fill", "#000")
    .attr("font-size", "13.6px").attr("font-family", FONT);

  // y axis
  const ya = g.append("g").attr("transform", `translate(${p.left},0)`)
    .call(d3.axisLeft(y).tickValues(p.yTicks).tickSize(6)
      .tickFormat(d => p.yLabels.some(v => Math.abs(v - d) < 1e-9) ? fmt(d) : ""));
  ya.select(".domain").remove();
  ya.selectAll("line").attr("stroke", LINE);
  ya.selectAll("text").attr("transform", "rotate(-90)").attr("x", 0).attr("y", -14.3).attr("dy", 0)
    .attr("text-anchor", "middle").attr("fill", "#000")
    .attr("font-size", "13.6px").attr("font-family", FONT);

  // title and axis labels
  g.append("text").attr("x", p.left + p.w / 2).attr("y", p.top - 19)
    .attr("text-anchor", "middle").attr("font-weight", "bold").attr("font-size", "16px")
    .attr("font-family", FONT).attr("fill", "#000").text(p.title);
  g.append("text").attr("x", p.left + p.w / 2).attr("y", bottom + 51)
    .attr("text-anchor", "middle").attr("font-size", "16.2px")
    .attr("font-family", FONT).attr("fill", "#000").text(xLabel);
  g.append("text").attr("transform", `translate(${p.left - 40},${p.top + p.h / 2}) rotate(-90)`)
    .attr("text-anchor", "middle").attr("font-size", "16px")
    .attr("font-family", FONT).attr("fill", "#000").text(yLabel);
}

panels.forEach(drawPanel);
</script>
</body></html>
